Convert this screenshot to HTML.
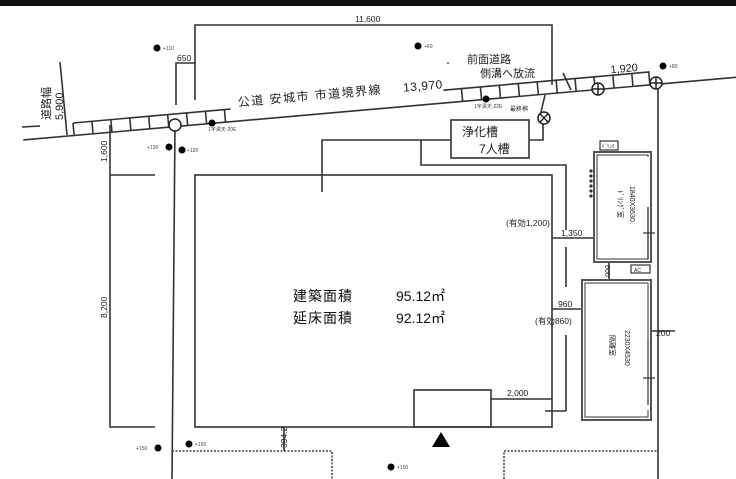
<!DOCTYPE html>
<html><head><meta charset="utf-8"><style>
html,body{margin:0;padding:0;background:#fff;}
svg{display:block;font-family:"Liberation Sans","Noto Sans CJK JP",sans-serif;}
</style></head><body>
<svg width="736" height="479" viewBox="0 0 736 479" xmlns="http://www.w3.org/2000/svg">
<rect width="736" height="479" fill="#fff"/>
<rect x="0" y="0" width="736" height="6" fill="#111"/>
<g stroke="#333" stroke-width="1.6" fill="none">
<polyline points="195,100 195,25 552,25 552,85"/>
<polyline points="176,105 176,63 195,63"/>
<g transform="translate(73,123) rotate(-5.06)">
<line x1="0" y1="0" x2="158" y2="0"/>
<line x1="372" y1="0" x2="579" y2="0"/>
<line x1="-51" y1="12.5" x2="666" y2="13"/>
<path d="M0 0V12.5M19 0V12.5M38 0V12.5M57 0V12.5M76 0V12.5M95 0V12.5M114 0V12.5M133 0V12.5M152 0V12.5M390 0V12.5M409 0V12.5M428 0V12.5M447 0V12.5M466 0V12.5M485 0V12.5M504 0V12.5M523 0V12.5M542 0V12.5M561 0V12.5M578 0V12.5"/>
<text x="166" y="-2" stroke="none" fill="#222" font-size="12" letter-spacing="1.5">公道 安城市 市道境界線</text>
<text x="332" y="-2" stroke="none" fill="#222" font-size="12" letter-spacing="0.5">13,970</text>
<text x="540" y="-2" stroke="none" fill="#222" font-size="11">1,920</text>
</g>
<line x1="22" y1="127" x2="40" y2="126"/>
<line x1="67" y1="135" x2="60" y2="62"/>
<line x1="563" y1="73" x2="571" y2="90"/>
<line x1="545" y1="95" x2="541" y2="112"/>
<line x1="175" y1="125" x2="172" y2="479"/>
<polyline points="110,125 110,427 155,427"/>
<line x1="110" y1="175" x2="155" y2="175"/>
<line x1="658" y1="83" x2="658" y2="479"/>
<rect x="195" y="175" width="357" height="252"/>
<rect x="414" y="390" width="77" height="37"/>
<line x1="491" y1="399" x2="552" y2="399"/>
<line x1="552" y1="238" x2="595" y2="238"/>
<line x1="552" y1="309" x2="583" y2="309"/>
<rect x="451" y="120" width="78" height="38"/>
<polyline points="451,140 322,140 322,192"/>
<polyline points="421,140 421,165 566,165 566,230"/>
<polyline points="529,140 543,140 543,124"/>
<line x1="566" y1="247" x2="566" y2="287"/>
<line x1="566" y1="335" x2="566" y2="411"/>
<line x1="545" y1="411" x2="566" y2="411"/>
<line x1="609" y1="262" x2="609" y2="280"/>
<line x1="651" y1="331" x2="675" y2="331"/>
<line x1="284" y1="427" x2="284" y2="451"/>
</g>
<g stroke="#222" stroke-width="1.5" fill="#fff">
<circle cx="175" cy="125" r="6"/>
<circle cx="598" cy="89" r="6"/><path d="M592 89h12M598 83v12" fill="none"/>
<circle cx="656" cy="83" r="6"/><path d="M650 83h12M656 77v12" fill="none"/>
<circle cx="544" cy="118" r="6"/><path d="M540 114l8 8M548 114l-8 8" fill="none"/>
</g>
<g stroke="#555" stroke-width="2" fill="none">
<rect x="594" y="152" width="57" height="110"/>
<rect x="597" y="155" width="51" height="104" stroke-width="1.2"/>
<rect x="582" y="280" width="69" height="140"/>
<rect x="585" y="283" width="63" height="134" stroke-width="1.2"/>
</g>
<rect x="647" y="157" width="3" height="50" fill="#fff"/>
<rect x="647" y="340" width="3" height="70" fill="#fff"/>
<g stroke="#333" stroke-width="1.2" fill="none">
<line x1="648" y1="207" x2="648" y2="259"/>
<line x1="648" y1="340" x2="648" y2="405"/>
<line x1="643" y1="233" x2="655" y2="233"/>
<line x1="643" y1="378" x2="655" y2="378"/>
<rect x="600" y="141" width="18" height="9"/>
<rect x="631" y="265" width="19" height="8"/>
</g>
<g fill="#333"><circle cx="591" cy="171" r="1.6"/><circle cx="591" cy="176" r="1.6"/><circle cx="591" cy="181" r="1.6"/><circle cx="591" cy="186" r="1.6"/><circle cx="591" cy="191" r="1.6"/><circle cx="591" cy="196" r="1.6"/></g>
<g stroke="#444" stroke-width="1.6" stroke-dasharray="2,1.5" fill="none">
<polyline points="172,451 332,451 332,479"/>
<polyline points="504,479 504,451 658,451"/>
</g>
<polygon points="441,432 432,447 450,447" fill="#000"/>
<g fill="#000">
<circle cx="157" cy="48" r="3.5"/><circle cx="418" cy="46" r="3.5"/><circle cx="663" cy="66" r="3.5"/>
<circle cx="212" cy="123" r="3.5"/><circle cx="486" cy="99" r="3.5"/>
<circle cx="169" cy="147" r="3.5"/><circle cx="182" cy="150" r="3.5"/>
<circle cx="158" cy="448" r="3.5"/><circle cx="189" cy="444" r="3.5"/><circle cx="391" cy="467" r="3.5"/>
<circle cx="448" cy="63" r="0.8"/>
</g>
<g fill="#444" font-size="5">
<text x="163" y="50">+110</text><text x="424" y="48">+60</text><text x="669" y="68">+80</text>
<text x="208" y="131">1字溝天-20E</text><text x="474" y="108">1字溝天-22E</text>
<text x="147" y="149">+120</text><text x="187" y="152">+120</text>
<text x="136" y="450">+150</text><text x="195" y="446">+150</text><text x="397" y="469">+150</text>
</g>
<g fill="#222" font-size="8.5">
<text x="355" y="22">11,600</text>
<text x="177" y="61">650</text>
<text x="506" y="226">(有効1,200)</text>
<text x="561" y="236">1,350</text>
<text x="558" y="307">960</text>
<text x="535" y="324">(有効860)</text>
<text x="507" y="396">2,000</text>
<text x="656" y="336">200</text>
<text transform="translate(107,162) rotate(-90)">1,600</text>
<text transform="translate(107,318) rotate(-90)">8,200</text>
<text transform="translate(287,448) rotate(-90)">394.2</text>
<text transform="translate(605,265) rotate(90)" font-size="7">600</text>
<text x="602" y="148" font-size="5">ﾄﾞﾘﾝｸ</text>
<text x="634" y="272" font-size="5">AC</text>
<text transform="translate(618,190) rotate(90)" font-size="7">ﾄﾞﾘﾝｸﾞ室</text>
<text transform="translate(630,186) rotate(90)" font-size="7">1840X3630</text>
<text transform="translate(610,335) rotate(90)" font-size="7">隔離室</text>
<text transform="translate(625,330) rotate(90)" font-size="7">2230X4530</text>
</g>
<g fill="#222" font-size="11">
<text x="467" y="63">前面道路</text>
<text x="480" y="77">側溝へ放流</text>
<text x="510" y="111" font-size="6">最終桝</text>
<text x="462" y="136" font-size="12">浄化槽</text>
<text x="479" y="153" font-size="12">7人槽</text>
<text transform="translate(50,120) rotate(-90)">道路幅</text>
<text transform="translate(63,120) rotate(-90)">5,900</text>
</g>
<g fill="#111" font-size="14">
<text x="293" y="301" letter-spacing="1">建築面積</text>
<text x="396" y="301">95.12㎡</text>
<text x="293" y="323" letter-spacing="1">延床面積</text>
<text x="396" y="323">92.12㎡</text>
</g>
</svg>
</body></html>
